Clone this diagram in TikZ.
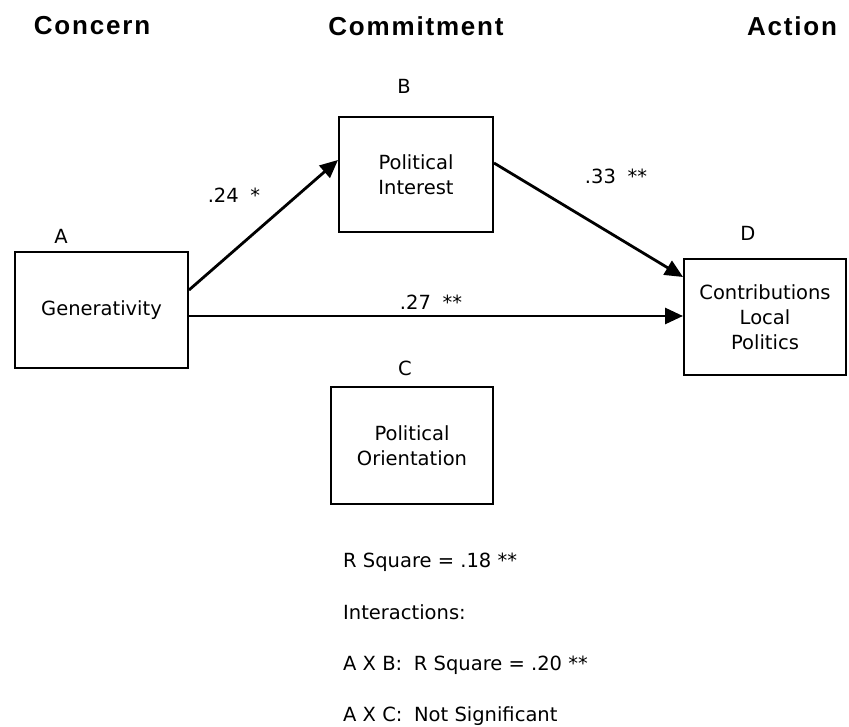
\documentclass[tikz,border=0pt]{standalone}
\usepackage{fontspec}
\setmainfont{DejaVu Sans}
\newfontfamily\headfont[LetterSpace=7]{Liberation Sans Bold}
\usetikzlibrary{arrows.meta}
\begin{document}
\begin{tikzpicture}[x=1pt,y=-1pt,
  box/.style={draw,line width=2pt,rectangle,inner sep=0pt,align=center,
    font=\fontsize{19.5}{25}\selectfont},
  head/.style={font=\headfont\fontsize{26}{28}\selectfont,inner sep=0pt},
  lbl/.style={font=\fontsize{19.5}{22}\selectfont,inner sep=0pt},
  note/.style={font=\fontsize{19.5}{22}\selectfont,inner sep=0pt,anchor=west},
  path/.style={line width=2.8pt,-{Triangle[length=18pt,width=16pt]}}]
\useasboundingbox (0,0) rectangle (849,727);
% column headings
\node[head] (hConcern) at (92,26) {Concern};
\node[head] (hCommit) at (416,26) {Commitment};
\node[head] (hAction) at (792,26) {Action};
% variables
\node[box,minimum width=173pt,minimum height=116pt] (A) at (101.5,310) {Generativity};
\node[box,minimum width=154pt,minimum height=115pt] (B) at (416,174.5) {Political\\Interest};
\node[box,minimum width=162pt,minimum height=117pt] (C) at (412,445.5) {Political\\Orientation};
\node[box,minimum width=162pt,minimum height=116pt] (D) at (765,317) {Contributions\\Local\\Politics};
% letters over the boxes
\node[lbl] (lA) at (61,236) {A};
\node[lbl] (lB) at (404,86) {B};
\node[lbl] (lC) at (405,368) {C};
\node[lbl] (lD) at (748,233) {D};
% paths
\draw[path] ([yshift=20pt]A.east) -- ([yshift=14.5pt]B.west);
\draw[path] ([yshift=11.5pt]B.east) -- ([yshift=40pt]D.west);
\draw[path] ([yshift=-6pt]A.east) -- ([yshift=1pt]D.west);
% coefficients
\node[lbl] (cAB) at (234,195) {.24\hspace{0.6em}*};
\node[lbl] (cBD) at (616,176) {.33\hspace{0.6em}**};
\node[lbl] (cAD) at (431,302) {.27\hspace{0.6em}**};
% model summary
\node[note] (n1) at (343,562) {R Square = .18 **};
\node[note] (n2) at (343,612) {Interactions:};
\node[note] (n3) at (343,665) {A X B:\hspace{0.6em}R Square = .20 **};
\node[note] (n4) at (343,716) {A X C:\hspace{0.6em}Not Significant};
\end{tikzpicture}
\end{document}
